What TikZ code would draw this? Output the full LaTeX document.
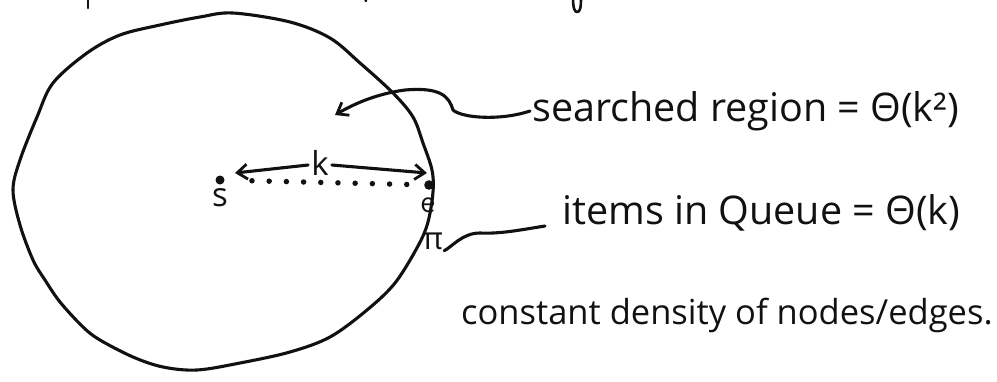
\documentclass[tikz,border=0pt]{standalone}
\usepackage{fontspec}
\setmainfont{Open Sans}
\usetikzlibrary{arrows.meta}
\definecolor{ink}{HTML}{111111}
\tikzset{
  pen/.style={draw=ink, line width=3.1pt, line cap=round, line join=round},
  thinpen/.style={draw=ink, line width=2.6pt, line cap=round, line join=round},
  barb/.style={-{Straight Barb[length=10pt,width=15pt,line width=2.8pt]}},
  hand/.style={text=ink, inner sep=2pt, font=\fontsize{39.5}{44}\selectfont},
  lab/.style={text=ink, inner sep=1pt, font=\fontsize{33}{36}\selectfont},
  dotrow/.style={draw=ink, line width=5.5pt, line cap=round, dash pattern=on 0pt off 17.2pt},
}
\begin{document}
\begin{tikzpicture}[x=1pt,y=-1pt]
\useasboundingbox (0,0) rectangle (997,381);
% region outline
\draw[pen] plot[smooth cycle, tension=0.55] coordinates {
 (233,13) (290,22) (330,38) (360,63) (393,93) (413,117) (423,143) (432,170)
 (433,192) (428,222) (418,246) (395,283) (367,310) (330,337) (290,352)
 (240,363) (197,370) (163,367) (133,357) (100,340) (83,327) (60,302)
 (45,280) (33,260) (20,225) (13,190) (20,160) (37,117) (53,83) (87,53)
 (120,35) (160,25) (200,17)};
% cut-off marks at the top edge
\draw[thinpen] (88,-2) -- (88,8);
\draw[thinpen] (365,-2) -- (366,1);
\draw[thinpen] (573,-2) .. controls (573,9) and (575,12) .. (577,12) .. controls (580,12) and (581,8) .. (581,-2);
% points
\fill[ink] (220,180) circle (4.5pt) coordinate (sdot);
\fill[ink] (429,185) circle (4.8pt) coordinate (edot);
\node[lab] (s) at (220,198) {s};
\node[lab, font=\fontsize{27}{30}\selectfont] (e) at (428,205) {e};
\node[lab, font=\fontsize{31}{34}\selectfont] (pi) at (433,241) {π};
% dotted radius
\draw[dotrow, shorten <=32pt, shorten >=21pt] (sdot) -- (edot);
% k arrows
\node[lab] (k) at (320,163) {k};
\coordinate (kl) at (235,173);
\coordinate (kr) at (427,173);
\draw[pen, barb] (k.west) ++(-2,2) -- (kl);
\draw[pen, barb] (k.east) ++(2,2) -- (kr);
% labels
\node[hand, anchor=west] (sr) at (530,111) {searched region = Θ(k²)};
\node[hand, anchor=west] (iq) at (560,213) {items in Queue = Θ(k)};
\node[hand, anchor=west, font=\fontsize{34.5}{38}\selectfont] (cd) at (459,315) {constant density of nodes/edges.};
% squiggle leader to the searched region
\coordinate (sa) at (335,115);
\draw[pen, barb] (sr.west) .. controls (500,121) and (462,118) .. (453,110)
  .. controls (449,96) and (440,87) .. (405,90)
  .. controls (375,94) and (352,105) .. (sa);
% squiggle leader to the queue item
\coordinate (qa) at (545,226);
\draw[pen] (qa) .. controls (520,230) and (500,234) .. (480,233)
  .. controls (462,233) and (452,247) .. (pi.south east);
\end{tikzpicture}
\end{document}
